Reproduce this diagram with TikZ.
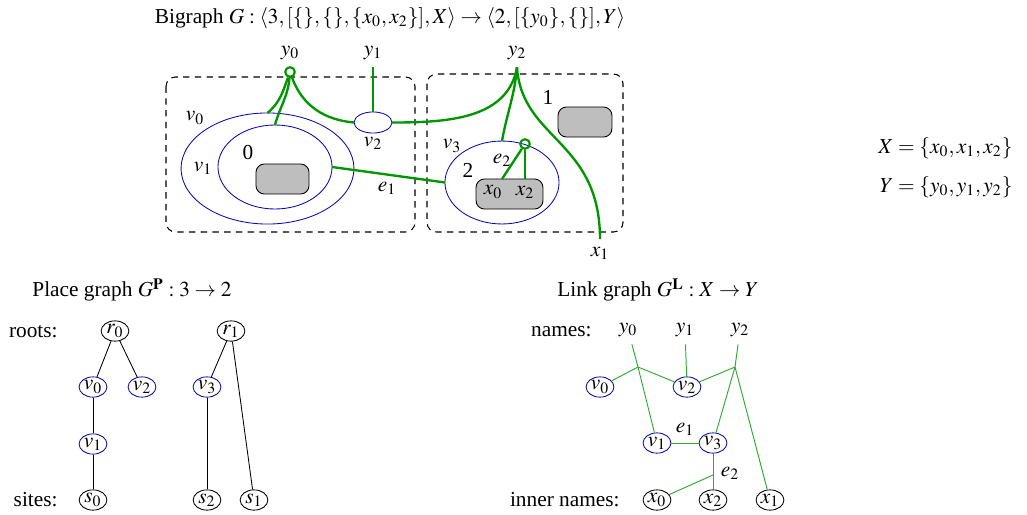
\documentclass[tikz,border=0pt]{standalone}
\usepackage{amssymb}
\usepackage{amsmath}
\usepackage{mathptmx}
\usepackage{fontspec}
\setmainfont{Liberation Serif}
\usetikzlibrary{shapes.geometric}

\definecolor{linkgreen}{RGB}{0,150,0}
\definecolor{nodeblue}{RGB}{10,10,170}
\definecolor{sitegray}{RGB}{190,190,190}

\begin{document}
\begin{tikzpicture}[x=0.469pt, y=-0.469pt,
  link/.style={linkgreen, line width=1.1pt},
  ctrl/.style={draw=nodeblue, ellipse, inner sep=0pt, outer sep=0pt},
  regionbox/.style={draw, line width=0.5pt, dash pattern=on 3pt off 2.5pt, rounded corners=4.5pt},
  sitebox/.style={draw, fill=sitegray, rounded corners=4pt, inner sep=0pt, outer sep=0pt, minimum height=14.1pt},
  port/.style={draw=linkgreen, circle, line width=1pt, inner sep=0pt, minimum size=4.5pt},
  gnode/.style={draw, ellipse, inner sep=0.3pt, minimum height=9.5pt, minimum width=13pt},
  vnode/.style={gnode, draw=nodeblue},
  gedge/.style={linkgreen!80!white, line width=0.45pt},
  tag/.style={inner sep=0pt}]
\useasboundingbox (0,0) rectangle (1027,515);

% bigraph
\node (title) at (390,18) {Bigraph $G:\langle 3,[\{\},\{\},\{x_0,x_2\}],X\rangle\to\langle 2,[\{y_0\},\{\}],Y\rangle$};
\draw[regionbox] (166,77) rectangle (415,232);
\draw[regionbox] (427,74) rectangle (623,232);

\node[ctrl, minimum width=81.1pt, minimum height=52.1pt] (v0) at (267.5,168.5) {};
\node[ctrl, minimum width=53.5pt, minimum height=39.4pt] (v1) at (275,167) {};
\node[ctrl, minimum width=17.8pt, minimum height=9.9pt] (v2) at (373,122.5) {};
\node[ctrl, minimum width=53.5pt, minimum height=38.9pt] (v3) at (502,182.5) {};

\node[sitebox, minimum width=24.9pt] (site0) at (282.5,179) {};
\node[sitebox, minimum width=25.3pt] (site1) at (585,122) {};
\node[sitebox, minimum width=31.4pt] (site2) at (509.5,194) {};

\node (reg0) at (248,153) {0};
\node (reg1) at (548,97) {1};
\node (reg2) at (468,170) {2};
\node (lbv0) at (195,118) {$v_0$};
\node (lbv1) at (203,168) {$v_1$};
\node (lbv2) at (373,143) {$v_2$};
\node (lbv3) at (452,146) {$v_3$};
\node (lbe1) at (387,188) {$e_1$};
\node (lbe2) at (502,160) {$e_2$};
\node (x0) at (493,192) {$x_0$};
\node (x2) at (525,192) {$x_2$};
\node (x1) at (600,253) {$x_1$};
\node (y0) at (290,53) {$y_0$};
\node (y1) at (373,53) {$y_1$};
\node (y2) at (517,53) {$y_2$};

\coordinate (x0in) at (502,179);
\coordinate (x2in) at (525,179);
\node[port] (p0) at (290,72) {};
\node[port] (e2) at (525,144) {};

\draw[link] (p0) to[out=-110,in=40] (v0.north);
\draw[link] (p0) to[out=-95,in=75] (v1.north);
\draw[link] (p0) to[out=-70,in=175] (v2.west);
\draw[link] (y1.south) -- (v2.north);
\draw[link] (y2.south) to[out=-100,in=0] (v2.east);
\draw[link] (y2.south) to[out=-95,in=80] (v3.north);
\draw[link] (y2.south) .. controls (522,140) and (600,140) .. (x1.north);
\draw[link] (v1.east) -- (v3.west);
\draw[link] (e2) -- (x0in);
\draw[link] (e2) -- (x2in);

\node[tag, anchor=east] (Xset) at (1013,148) {$X=\{x_0,x_1,x_2\}$};
\node[tag, anchor=east] (Yset) at (1013,187) {$Y=\{y_0,y_1,y_2\}$};

% place graph
\node[tag, anchor=west] (ptitle) at (32,290) {Place graph $G^{\mathbf{P}}:3\to 2$};
\node[tag, anchor=east] (roots) at (58,332) {roots:};
\node[tag, anchor=east] (sites) at (58,500) {sites:};
\node[gnode] (r0) at (115,331) {$r_0$};
\node[gnode] (r1) at (231,331) {$r_1$};
\node[vnode] (pv0) at (93,387) {$v_0$};
\node[vnode] (pv2) at (142,387) {$v_2$};
\node[vnode] (pv1) at (93,444) {$v_1$};
\node[vnode] (pv3) at (207,387) {$v_3$};
\node[gnode] (s0) at (93,500) {$s_0$};
\node[gnode] (s2) at (207,500) {$s_2$};
\node[gnode] (s1) at (254,500) {$s_1$};
\draw (r0) -- (pv0);
\draw (r0) -- (pv2);
\draw (pv0) -- (pv1);
\draw (pv1) -- (s0);
\draw (r1) -- (pv3);
\draw (pv3) -- (s2);
\draw (r1) -- (s1);

% link graph
\node[tag, anchor=west] (ltitle) at (557,290) {Link graph $G^{\mathbf{L}}:X\to Y$};
\node[tag, anchor=east] (names) at (592,332) {names:};
\node[tag, anchor=east] (inames) at (620,500) {inner names:};
\node (ly0) at (628,330) {$y_0$};
\node (ly1) at (685,330) {$y_1$};
\node (ly2) at (740,330) {$y_2$};
\node[vnode] (lv0) at (600,387) {$v_0$};
\node[vnode] (lv2) at (687,387) {$v_2$};
\node[vnode] (lv1) at (657,443) {$v_1$};
\node[vnode] (lv3) at (713,443) {$v_3$};
\node[gnode] (lx0) at (657,500) {$x_0$};
\node[gnode] (lx2) at (713,500) {$x_2$};
\node[gnode] (lx1) at (770,500) {$x_1$};
\coordinate (h0) at (638,367);
\coordinate (h2) at (735,367);
\coordinate (he2) at (713,475);
\draw[gedge] (ly0) -- (h0) -- (lv1);
\draw[gedge] (h0) -- (lv0);
\draw[gedge] (h0) -- (lv2);
\draw[gedge] (ly1) -- (lv2);
\draw[gedge] (ly2) -- (h2);
\draw[gedge] (h2) -- (lv2);
\draw[gedge] (h2) -- (lv3);
\draw[gedge] (h2) -- (lx1);
\draw[gedge] (lv1) -- (lv3) node[midway, above, black] {$e_1$};
\draw[gedge] (lv3) -- (lx2);
\draw[gedge] (he2) -- (lx0);
\node (le2) at (730,473) {$e_2$};
\end{tikzpicture}
\end{document}
